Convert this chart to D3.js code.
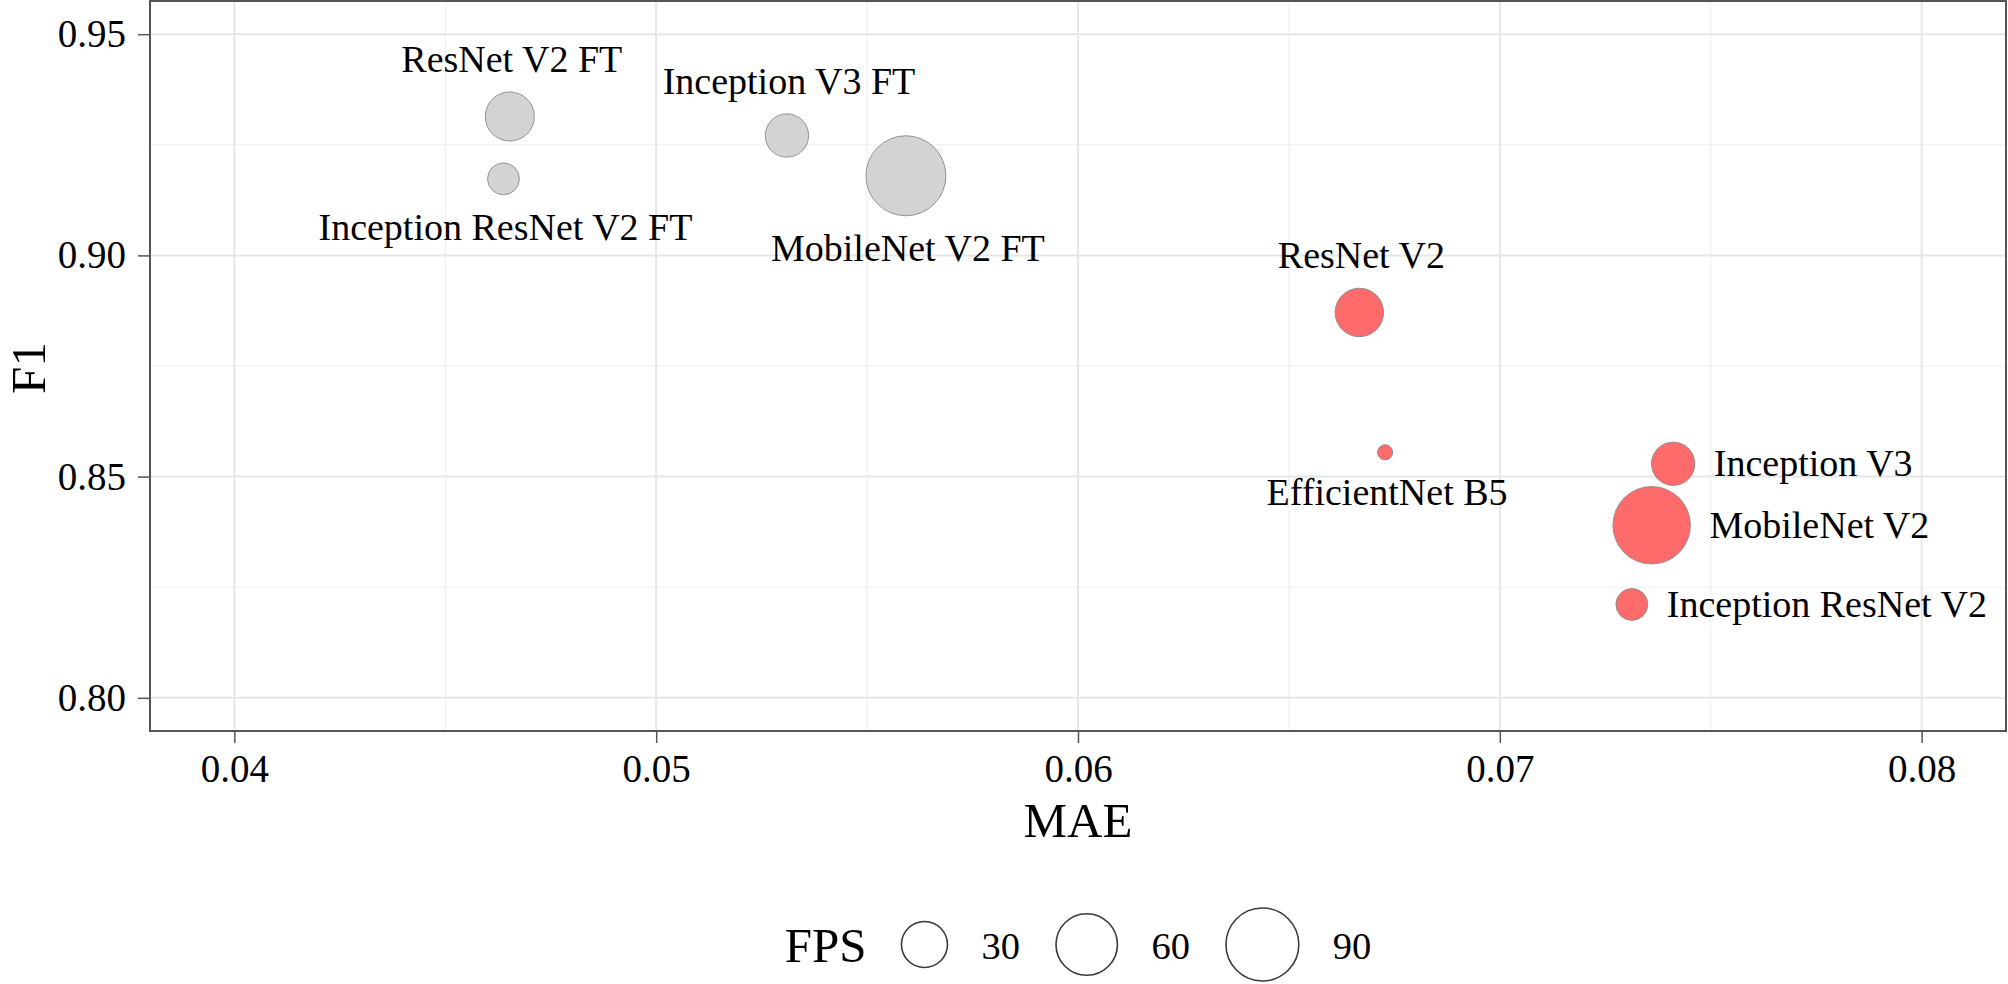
<!DOCTYPE html>
<html>
<head>
<meta charset="utf-8">
<script src="https://cdn.jsdelivr.net/npm/d3@7/dist/d3.min.js"></script>
<style>
  html, body { margin: 0; padding: 0; background: #fff; }
  text { font-family: "Liberation Serif", "Times New Roman", serif; fill: #000; }
</style>
</head>
<body>
<div id="chart"></div>
<script>
// values
const models = ["ResNet V2 FT", "Inception ResNet V2 FT", "Inception V3 FT", "MobileNet V2 FT",
                "ResNet V2", "EfficientNet B5", "Inception V3", "MobileNet V2", "Inception ResNet V2"];
const mae = [0.04653, 0.04638, 0.05310, 0.05592, 0.06667, 0.06728, 0.07411, 0.07360, 0.07313];
const f1 = [0.9314, 0.9173, 0.9271, 0.9180, 0.8871, 0.8555, 0.8529, 0.8390, 0.8211];
const fps = [35, 13, 26, 112, 34, 6, 26, 104, 13];
const fineTuned = [true, true, true, true, false, false, false, false, false];
const labelSide = ["top", "bottom", "top", "bottom", "top", "bottom", "right", "right", "right"];

const xTicks = [0.04, 0.05, 0.06, 0.07, 0.08];
const yTicks = [0.80, 0.85, 0.90, 0.95];
const xMinor = [0.045, 0.055, 0.065, 0.075];
const yMinor = [0.825, 0.875, 0.925];
const fpsBreaks = [30, 60, 90];

const width = 2008, height = 984;
const panel = { left: 150, top: 1, right: 2006, bottom: 731 };

const svg = d3.select("#chart").append("svg")
  .attr("width", width)
  .attr("height", height);

// ggplot-style 5% expansion around the limits
function expand(lo, hi) {
  const pad = (hi - lo) * 0.05;
  return [lo - pad, hi + pad];
}

const x = d3.scaleLinear().domain(expand(0.04, 0.08)).range([panel.left, panel.right]);
const y = d3.scaleLinear().domain(expand(0.80, 0.95)).range([panel.bottom, panel.top]);

// size: area grows with rescaled fps
const fpsScale = d3.scaleLinear().domain(d3.extent(fps)).range([0, 1]);
const sizeScale = d3.scaleSqrt().domain([0, 1]).range([7.6, 40]);
const radius = v => sizeScale(fpsScale(v));

// grid
const grid = svg.append("g");
grid.selectAll(".xminor").data(xMinor).join("line")
  .attr("x1", d => x(d)).attr("x2", d => x(d))
  .attr("y1", panel.top).attr("y2", panel.bottom)
  .attr("stroke", "#ededed").attr("stroke-width", 1);
grid.selectAll(".yminor").data(yMinor).join("line")
  .attr("y1", d => y(d)).attr("y2", d => y(d))
  .attr("x1", panel.left).attr("x2", panel.right)
  .attr("stroke", "#ededed").attr("stroke-width", 1);
grid.selectAll(".xmajor").data(xTicks).join("line")
  .attr("x1", d => x(d)).attr("x2", d => x(d))
  .attr("y1", panel.top).attr("y2", panel.bottom)
  .attr("stroke", "#e6e6e6").attr("stroke-width", 2);
grid.selectAll(".ymajor").data(yTicks).join("line")
  .attr("y1", d => y(d)).attr("y2", d => y(d))
  .attr("x1", panel.left).attr("x2", panel.right)
  .attr("stroke", "#e6e6e6").attr("stroke-width", 2);

// axes
const xAxis = svg.append("g")
  .attr("transform", `translate(0,${panel.bottom})`)
  .call(d3.axisBottom(x).tickValues(xTicks).tickFormat(d3.format(".2f")).tickSize(12).tickPadding(11));
const yAxis = svg.append("g")
  .attr("transform", `translate(${panel.left},0)`)
  .call(d3.axisLeft(y).tickValues(yTicks).tickFormat(d3.format(".2f")).tickSize(12).tickPadding(12));

[xAxis, yAxis].forEach(ax => {
  ax.attr("font-family", null);
  ax.select(".domain").remove();
  ax.selectAll(".tick line").attr("stroke", "#555").attr("stroke-width", 1.5);
  ax.selectAll(".tick text")
    .attr("font-size", 39)
    .attr("fill", "#000");
});

// panel border
svg.append("rect")
  .attr("x", panel.left).attr("y", panel.top)
  .attr("width", panel.right - panel.left)
  .attr("height", panel.bottom - panel.top)
  .attr("fill", "none")
  .attr("stroke", "#555")
  .attr("stroke-width", 2);

// axis titles
svg.append("text")
  .attr("x", (panel.left + panel.right) / 2)
  .attr("y", 837)
  .attr("text-anchor", "middle")
  .attr("font-size", 49)
  .text("MAE");

svg.append("text")
  .attr("transform", "translate(45,368) rotate(-90)")
  .attr("text-anchor", "middle")
  .attr("font-size", 49)
  .text("F1");

// points
const points = models.map((m, i) => ({
  name: m, mae: mae[i], f1: f1[i], fps: fps[i], ft: fineTuned[i], side: labelSide[i]
}));

svg.append("g").selectAll("circle")
  .data(points)
  .join("circle")
  .attr("cx", d => x(d.mae))
  .attr("cy", d => y(d.f1))
  .attr("r", d => radius(d.fps))
  .attr("fill", d => d.ft ? "#d3d3d3" : "#ff6b6b")
  .attr("stroke", "#8a8a8a")
  .attr("stroke-width", 0.9);

// labels
const labelSize = 38;
const gap = 20;
svg.append("g").selectAll("text")
  .data(points)
  .join("text")
  .attr("font-size", labelSize)
  .attr("text-anchor", d => d.side === "right" ? "start" : "middle")
  .attr("x", d => d.side === "right" ? x(d.mae) + radius(d.fps) + gap - 1 : x(d.mae) + 2)
  .attr("y", d => {
    const cy = y(d.f1), r = radius(d.fps);
    if (d.side === "top") return cy - r - gap;
    if (d.side === "bottom") return cy + r + gap + labelSize * 0.66;
    return cy + labelSize * 0.33;
  })
  .text(d => d.name);

// size legend
const legend = svg.append("g");
const legendY = 944.5;
let cursor = 0;
const title = legend.append("text")
  .attr("x", cursor).attr("y", legendY + 17)
  .attr("font-size", 49)
  .text("FPS");
cursor += title.node().getComputedTextLength() + 35;

fpsBreaks.forEach((b, i) => {
  const r = radius(b);
  legend.append("circle")
    .attr("cx", cursor + r)
    .attr("cy", legendY)
    .attr("r", r)
    .attr("fill", "none")
    .attr("stroke", "#3a3a3a")
    .attr("stroke-width", 1.6);
  cursor += 2 * r + 34;
  const t = legend.append("text")
    .attr("x", cursor).attr("y", legendY + 14.5)
    .attr("font-size", 38.5)
    .text(b);
  cursor += t.node().getComputedTextLength();
  if (i < fpsBreaks.length - 1) cursor += 36;
});

legend.attr("transform", `translate(${(panel.left + panel.right) / 2 - cursor / 2},0)`);
</script>
</body>
</html>
